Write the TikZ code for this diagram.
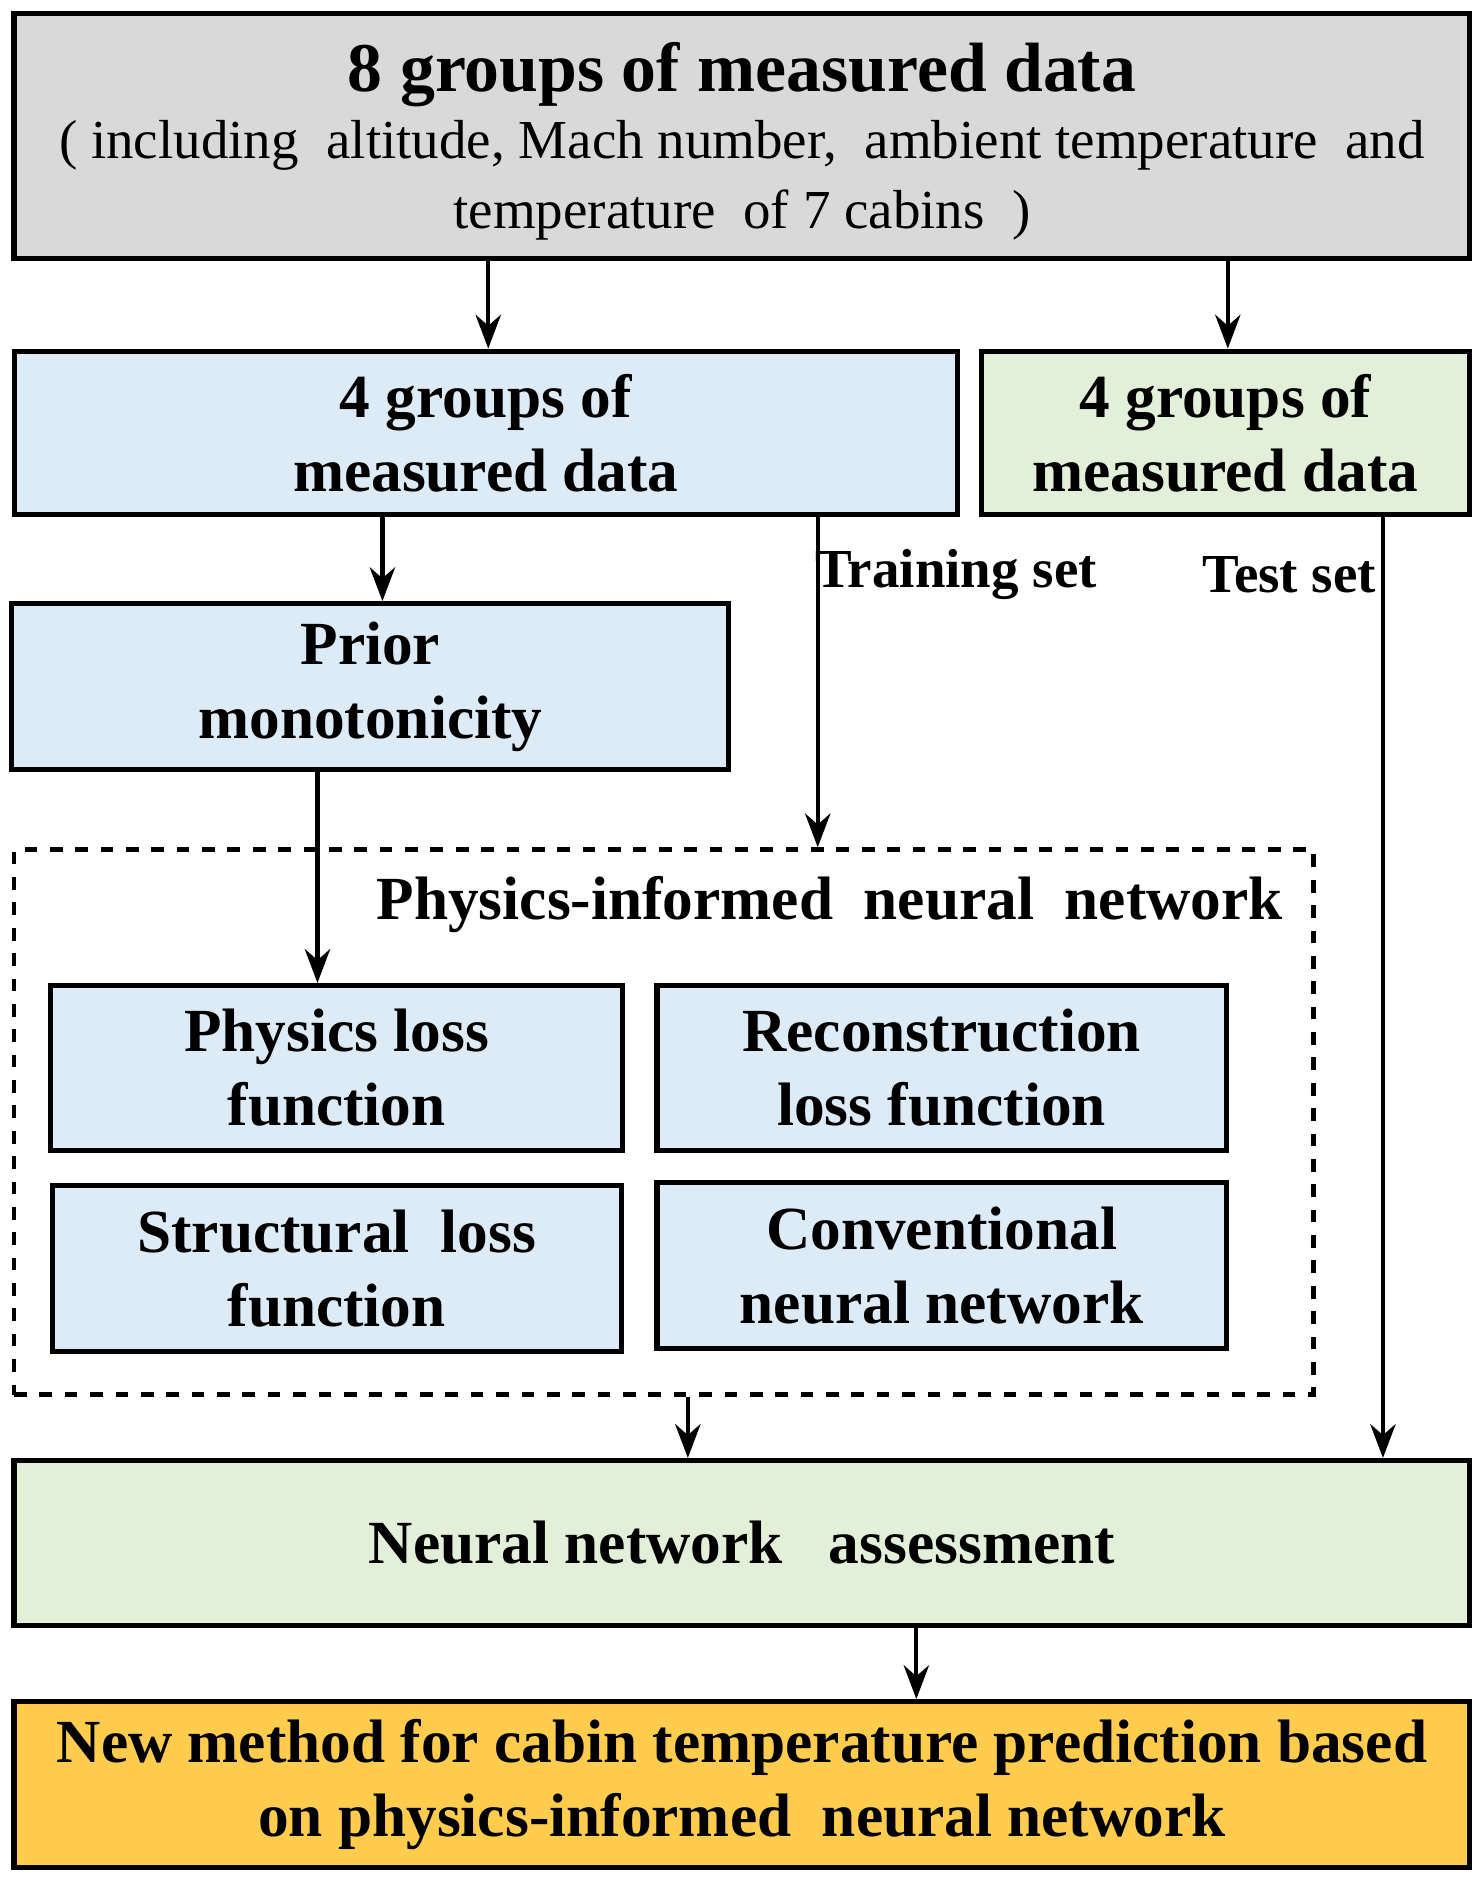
\documentclass[tikz,border=0pt]{standalone}
\usepackage{fontspec}
\setmainfont{Liberation Serif}
\usetikzlibrary{arrows.meta}
\definecolor{grayfill}{HTML}{D9D9D9}
\definecolor{bluefill}{HTML}{DDEBF7}
\definecolor{greenfill}{HTML}{E2F0D9}
\definecolor{orangefill}{HTML}{FFCC4D}
\begin{document}
\begin{tikzpicture}[x=0.01cm,y=-0.01cm,
  box/.style={draw,line width=1.2pt,align=center,font=\fontsize{14.5}{17.5}\selectfont\bfseries,inner sep=0pt},
  lbl/.style={font=\fontsize{13}{16}\selectfont\bfseries},
  arr/.style={-{Stealth[length=8pt,width=6pt]},line width=1pt}]
\useasboundingbox (0,0) rectangle (1230,1565);
				\node[box,fill=grayfill,minimum width=12.1cm,minimum height=2.03cm] (top) at (617,113) {};
				\node[font=\fontsize{16.5}{20}\selectfont\bfseries] (toptitle) at (617,62) {8 groups of measured data};
				\node[align=center,font=\fontsize{13}{16.5}\selectfont] (topsub) at (617,150)
					{( including\ \ altitude,\ Mach number,\ \ ambient temperature\ \ and\\temperature\ \ of 7 cabins\ \ )};
				\node[box,fill=bluefill,minimum width=7.84cm,minimum height=1.36cm] (dataA) at (404,360) {4 groups of\\measured\ data};
				\node[box,fill=greenfill,minimum width=4.05cm,minimum height=1.36cm] (dataB) at (1019,360) {4 groups of\\measured data};
				\node[box,fill=bluefill,minimum width=5.96cm,minimum height=1.38cm] (prior) at (308,571) {Prior\\monotonicity};
				\node[draw,dashed,line width=1pt,minimum width=10.8cm,minimum height=4.53cm,inner sep=0pt] (pinn) at (552,933) {};
				\node[font=\fontsize{14.5}{17.5}\selectfont\bfseries] (pinnlbl) at (690,752) {Physics-informed\ \ neural\ \ network};
				\node[box,fill=bluefill,minimum width=4.75cm,minimum height=1.37cm] (phys) at (280,888) {Physics loss\\function};
				\node[box,fill=bluefill,minimum width=4.73cm,minimum height=1.37cm] (recon) at (783,888) {Reconstruction\\loss function};
				\node[box,fill=bluefill,minimum width=4.73cm,minimum height=1.38cm] (struct) at (280,1055) {Structural\ \ loss\\function};
				\node[box,fill=bluefill,minimum width=4.73cm,minimum height=1.38cm] (conv) at (783,1052) {Conventional\\neural network};
				\node[box,fill=greenfill,minimum width=12.1cm,minimum height=1.37cm] (assess) at (617,1283) {Neural network\ \ \ assessment};
				\node[box,fill=orangefill,minimum width=12.1cm,minimum height=1.38cm] (result) at (617,1484)
					{New\ method\ for\ cabin\ temperature\ prediction\ based\\on\ physics-informed\ \ neural\ network};
				
				% connectors
				\draw[arr] (top.south -| 406,0) -- (dataA.north -| 406,0);
				\draw[arr] (top.south -| 1021,0) -- (dataB.north -| 1021,0);
				\draw[arr] (dataA.south -| 318,0) -- (prior.north -| 318,0);
				\draw[arr] (dataA.south -| 680,0) -- (pinn.north -| 680,0);
				\draw[arr] (dataB.south -| 1150,0) -- (assess.north -| 1150,0);
				\draw[arr] (prior.south -| 264,0) -- (phys.north -| 264,0);
				\draw[arr] (pinn.south -| 572,0) -- (assess.north -| 572,0);
				\draw[arr] (assess.south -| 762,0) -- (result.north -| 762,0);
				
				\node[lbl] (trainlbl) at (795,478) {Training set};
				\node[lbl] (testlbl) at (1072,478) {Test set};
\end{tikzpicture}
\end{document}
